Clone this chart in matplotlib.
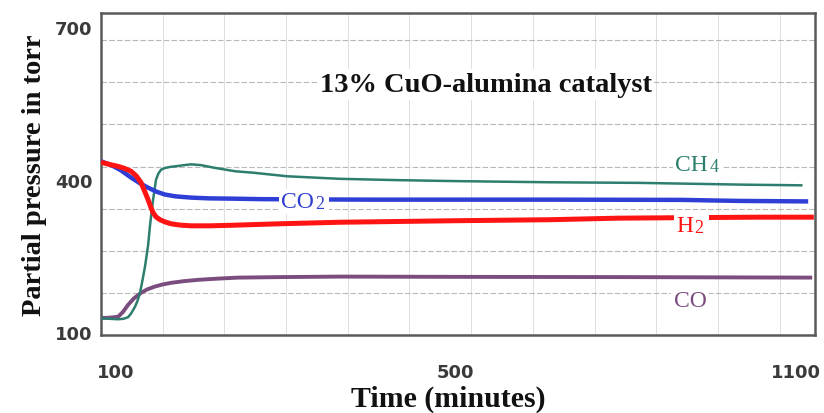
import numpy as np
import matplotlib
matplotlib.use("Agg")
import matplotlib.pyplot as plt

# ---- data ----
t_co2 = [82.3, 95, 106, 117.7, 128, 137.8, 148, 157.8, 170, 188.5, 210, 235.7, 270, 320, 400,
         500, 667, 900, 948, 1000, 1121]
p_co2 = [436, 428, 418, 404, 393, 384, 376, 370.5, 367, 364.5, 363, 362.5, 361.5, 361, 360.5,
         360.5, 360.5, 360, 359, 358, 357]

t_h2 = [82.3, 92, 102.4, 110, 117.7, 124, 129.5, 134, 137.8, 141, 143.7, 147.5, 151.9, 158,
        164.9, 175, 188.5, 210, 235.7, 293, 364, 500, 667, 785, 900, 1037, 1131]
p_h2 = [434, 430, 426, 422, 416.4, 407, 394, 376, 360.5, 346, 334.8, 326, 321, 316.5,
        313, 310.5, 309, 309, 310, 313, 316, 319, 321, 324, 325, 326, 326]

t_ch4 = [82.3, 92, 102.4, 109, 114.2, 118, 122.4, 125.5, 128.3, 131, 134.2, 137.8, 140.1,
         143.7, 147.2, 150, 153.1, 158, 164, 169.6, 178, 188.5, 200, 216.8, 240.4, 262,
         302, 364, 430, 500, 667, 826, 1007, 1111]
p_ch4 = [127, 126, 125, 126, 129, 137, 149.6, 162, 177, 200, 229, 270, 310,
         360.5, 400, 412, 419.5, 423, 425, 426, 428, 430, 428.5, 423, 416.4, 413.5,
         406.5, 401.5, 399, 397, 394.7, 393.5, 390, 388.7]

t_co = [82.3, 92, 102.4, 108, 114.2, 121, 129.5, 137, 146, 155, 164.9, 180, 196.8, 220,
        244, 293, 364, 500, 800, 1128]
p_co = [127.5, 128, 130, 139, 153.3, 166, 177, 184, 189.5, 193.5, 196.7, 200, 202.6, 205,
        207, 208, 209, 208.5, 208, 207]

x_ticks = [100, 500, 1100]
y_ticks = [100, 400, 700]

title = "13% CuO-alumina catalyst"
x_label = "Time (minutes)"
y_label = "Partial pressure in torr"

# ---- non-uniform time axis (as drawn in the reference) ----
def fwd(t):
    t = np.asarray(t, float)
    return np.where(t <= 500, t, 500 + (t - 500) * 0.6706)

def inv(u):
    u = np.asarray(u, float)
    return np.where(u <= 500, u, 500 + (u - 500) / 0.6706)

serif = ["Liberation Serif", "DejaVu Serif"]
sans = ["DejaVu Sans"]

fig = plt.figure(figsize=(8.24, 4.14), dpi=100)
ax = fig.add_axes([0.1226, 0.1884, 0.8665, 0.7778])
ax.set_xscale("function", functions=(fwd, inv))
ax.set_xlim(82.3, 1133)
ax.set_ylim(94, 728)

# grid
for k in range(1, 12):
    ax.plot([0.0864 * k] * 2, [0, 1], transform=ax.transAxes, color="#dedede",
            lw=0.7, zorder=0)
for k in range(1, 8):
    ax.plot([0, 1], [0.1308 * k] * 2, transform=ax.transAxes, color="#b8b8b8",
            lw=0.8, ls=(0, (5, 2)), zorder=0)

# curves
ax.plot(t_co, p_co, color="#7b4d7e", lw=2.8, zorder=2, solid_capstyle="butt")
ax.plot(t_ch4, p_ch4, color="#2e7e6f", lw=1.8, zorder=3, solid_capstyle="butt")
ax.plot(t_co2, p_co2, color="#2f3fd6", lw=3.2, zorder=4, solid_capstyle="butt")
ax.plot(t_h2, p_h2, color="#ff1414", lw=3.6, zorder=5, solid_capstyle="butt")

# series labels: main text + smaller digit on the same baseline
def chem_label(x, y, main, sub, color, ha="right"):
    if sub:
        ax.annotate(sub, xy=(x, y), xytext=(1.0, -6.5), textcoords="offset points",
                    ha="left", va="baseline", color=color, family=serif,
                    fontsize=13, zorder=6,
                    bbox=dict(facecolor="white", edgecolor="none", pad=3.5))
    ax.annotate(main, xy=(x, y), xytext=(0, -6), textcoords="offset points",
                ha=ha, va="baseline", color=color,
                family=serif, fontsize=17, zorder=6.1,
                bbox=dict(facecolor="white", edgecolor="none", pad=1.5))

chem_label(333.6, 362.5, "CO", "2", "#3040d0")
chem_label(919, 315, "H", "2", "#ff1414")
chem_label(945, 434.5, "CH", "4", "#2e7e6f")
chem_label(913, 168, "CO", "", "#7b4d7e", ha="center")

ax.text(0.5385, 0.779, title, transform=ax.transAxes, family=serif,
        fontweight="bold", fontsize=20.5, ha="center", va="center", zorder=6,
        color="#111111", bbox=dict(facecolor="white", edgecolor="none", pad=2))

# axes styling
for s in ax.spines.values():
    s.set_color("#5a5a5a")
    s.set_linewidth(1.8)
ax.set_xticks(x_ticks)
ax.set_xticklabels([str(v) for v in x_ticks])
ax.set_yticks(y_ticks)
ax.set_yticklabels([str(v) for v in y_ticks])
ax.xaxis.set_minor_locator(matplotlib.ticker.NullLocator())
ax.tick_params(axis="both", length=0, labelsize=13, colors="#3a3a3a")
ax.tick_params(axis="x", pad=20)
ax.tick_params(axis="y", pad=6)
for t in ax.get_xticklabels() + ax.get_yticklabels():
    t.set_family(sans)
    t.set_fontweight("bold")

ax.set_xlabel(x_label, family=serif, fontweight="bold", fontsize=21.5,
              color="#111111")
ax.xaxis.set_label_coords(0.487, -0.198)
ax.xaxis.label.set_va("center")
ax.set_ylabel(y_label, family=serif, fontweight="bold", fontsize=20.5,
              color="#111111", labelpad=6)

fig.savefig("out.png", dpi=100)
